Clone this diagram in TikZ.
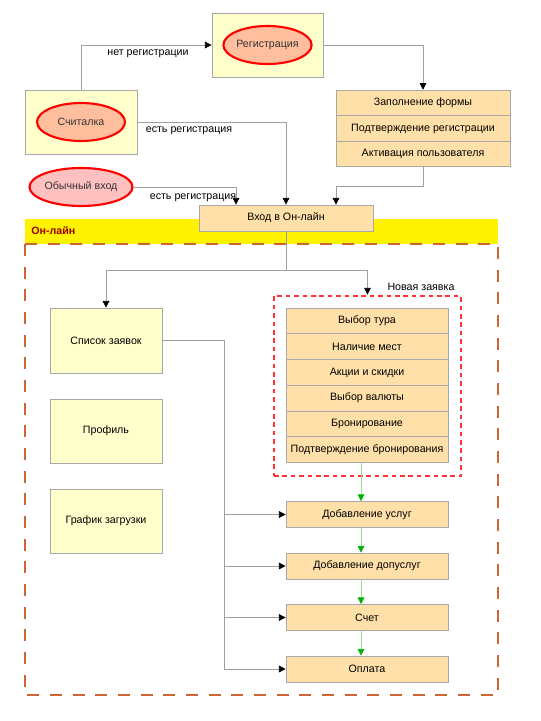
\documentclass[tikz,border=0pt]{standalone}
\usepackage{fontspec}
\setmainfont{Liberation Sans}
\usetikzlibrary{arrows.meta,shapes.geometric}
\definecolor{ly}{HTML}{FFFFCC}
\definecolor{orb}{HTML}{FFE0A8}
\definecolor{bd}{HTML}{A8A8A8}
\definecolor{salmonf}{HTML}{FFBF9F}
\definecolor{pinkf}{HTML}{FFC0C0}
\definecolor{brd}{HTML}{CC6633}
\definecolor{rdot}{HTML}{FF3333}
\definecolor{grn}{HTML}{00B000}
\definecolor{lgrn}{HTML}{99DD99}
\definecolor{ln}{HTML}{A0A0A0}
\definecolor{dred}{HTML}{990000}
\begin{document}
\begin{tikzpicture}[x=0.75pt,y=-0.75pt,
  every node/.style={font=\fontsize{8}{10}\selectfont, inner sep=0pt},
  sz/.style 2 args={minimum width=#1*0.75pt, minimum height=#2*0.75pt},
  ybox/.style={draw=bd, fill=ly, rectangle, line width=0.6pt},
  obox/.style={draw=bd, fill=orb, rectangle, line width=0.6pt, sz={162}{25.75}},
  ell/.style={ellipse, draw=red, line width=1.6pt, fill=salmonf, sz={88}{38}, text=black!80},
  conn/.style={draw=ln, line width=0.6pt, -{Triangle[length=5pt,width=5pt,color=black,fill=black]}},
  plain/.style={draw=ln, line width=0.6pt},
  gconn/.style={draw=lgrn, line width=0.5pt, -{Triangle[length=5pt,width=5pt,color=grn,fill=grn]}}]
\fill[white] (0,0) rectangle (540,721);
\useasboundingbox (0,0) rectangle (540,721);
% online band and border
\fill[yellow] (25,219) rectangle (498,244);
\node[anchor=west, text=dred, font=\fontsize{8}{10}\selectfont\bfseries] (online) at (31,231) {Он-лайн};
\draw[brd, line width=2.2pt, dash pattern=on 9pt off 8pt] (25,244) rectangle (498,695);
% top part
\node[ybox, sz={111}{64}] (regbox) at (267.5,45) {};
\node[ell] (reg) at (267.5,45) {Регистрация};
\node[ybox, sz={112}{64}] (schbox) at (81,122) {};
\node[ell] (sch) at (81,122) {Считалка};
\node[ell, fill=pinkf] (obv) at (81,187) {Обычный вход};
\node[obox, sz={174}{25.7}] (f1) at (423,103) {Заполнение формы};
\node[obox, sz={174}{25.7}] (f2) at (423,128.5) {Подтверждение регистрации};
\node[obox, sz={174}{25.7}] (f3) at (423,154) {Активация пользователя};
\node[obox, sz={174}{26}] (vhod) at (286,218) {Вход в Он-лайн};
% connectors top
\draw[conn] (schbox.north) |- (regbox.west);
\node (l1) at (148,54) {нет регистрации};
\draw[conn] (regbox.east) -| (f1.north);
\draw[conn] (schbox.east) -| (vhod.north);
\node (l2) at (189,131) {есть регистрация};
\coordinate (va) at (236,0);
\draw[conn] (obv.east) -| (va |- vhod.north);
\node (l3) at (193,198) {есть регистрация};
\coordinate (vb) at (336,186);
\draw[conn] (f3.south) |- (vb) -- (vb |- vhod.north);
% online content
\node[ybox, sz={112}{65}] (spisok) at (106,340.5) {Список заявок};
\node[ybox, sz={112}{64}] (profil) at (106,431) {Профиль};
\node[ybox, sz={112}{64}] (grafik) at (106,521) {График загрузки};
\node[draw=rdot, line width=2.2pt, dash pattern=on 3.5pt off 2.8pt, rectangle, sz={187}{180}] (nz) at (367.5,386) {};
\node (l4) at (421,287) {Новая заявка};
\node[obox] (s1) at (367,320.9) {Выбор тура};
\node[obox] (s2) at (367,346.6) {Наличие мест};
\node[obox] (s3) at (367,372.4) {Акции и скидки};
\node[obox] (s4) at (367,398.1) {Выбор валюты};
\node[obox] (s5) at (367,423.9) {Бронирование};
\node[obox] (s6) at (367,449.6) {Подтверждение бронирования};
\node[obox, sz={162}{26}] (a1) at (367,514.5) {Добавление услуг};
\node[obox, sz={162}{26}] (a2) at (367,566) {Добавление допуслуг};
\node[obox, sz={162}{26}] (a3) at (367,617.5) {Счет};
\node[obox, sz={162}{26}] (a4) at (367,669) {Оплата};
% split from entry
\coordinate (split) at (286,270);
\draw[plain] (vhod.south) -- (split);
\draw[conn] (split) -| (spisok.north);
\draw[conn] (split) -| (nz.north);
% green flow
\coordinate (gx) at (361,0);
\draw[gconn] (s6.south -| gx) -- (a1.north -| gx);
\draw[gconn] (a1.south -| gx) -- (a2.north -| gx);
\draw[gconn] (a2.south -| gx) -- (a3.north -| gx);
\draw[gconn] (a3.south -| gx) -- (a4.north -| gx);
% bus from list
\coordinate (bus) at (224,0);
\draw[plain] (spisok.east) -- (spisok.east -| bus) -- (bus |- a4.west);
\draw[conn] (bus |- a1.west) -- (a1.west);
\draw[conn] (bus |- a2.west) -- (a2.west);
\draw[conn] (bus |- a3.west) -- (a3.west);
\draw[conn] (bus |- a4.west) -- (a4.west);
\end{tikzpicture}
\end{document}
